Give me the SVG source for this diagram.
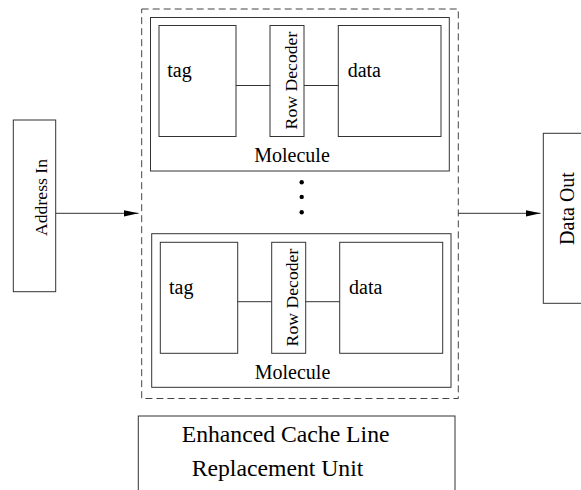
<svg xmlns="http://www.w3.org/2000/svg" width="581" height="490" viewBox="0 0 581 490">
<style>
.b{fill:#fff;stroke:#333;stroke-width:1}
.n{fill:none;stroke:#333;stroke-width:1}
.d{fill:none;stroke:#444;stroke-width:1;stroke-dasharray:7 4}
text{font-family:"Liberation Serif","Times New Roman",serif;fill:#000}
.t20{font-size:20px}
.t18{font-size:17.7px}
.t24{font-size:23.7px}
</style>
<defs>
<marker id="ah" markerUnits="userSpaceOnUse" markerWidth="16" markerHeight="8" refX="15" refY="4" orient="auto">
<path d="M0,0.8 L15,4 L0,7.2 Z" fill="#000"/>
</marker>
</defs>
<rect width="581" height="490" fill="#fff"/>
<g id="cache">
<rect class="d" x="141.7" y="9" width="316.6" height="389.5"/>
</g>
<g id="molecule1">
<rect class="b" x="150.5" y="17.5" width="298.8" height="153.5"/>
<text class="t20" x="292" y="162" text-anchor="middle">Molecule</text>
</g>
<g id="tag1">
<rect class="b" x="159" y="25.5" width="77" height="111"/>
<text class="t20" x="167.3" y="77">tag</text>
</g>
<g id="rowdec1">
<rect class="b" x="270" y="25.5" width="34" height="111"/>
<text class="t18" transform="translate(296.5,80.5) rotate(-90)" text-anchor="middle">Row Decoder</text>
</g>
<g id="data1">
<rect class="b" x="338.3" y="25.5" width="102.7" height="111"/>
<text class="t20" x="347.7" y="77">data</text>
</g>
<g id="molecule2">
<rect class="b" x="151.7" y="233.7" width="299.3" height="153.6"/>
<text class="t20" x="292.5" y="379.3" text-anchor="middle">Molecule</text>
</g>
<g id="tag2">
<rect class="b" x="160.3" y="242.3" width="77.4" height="111"/>
<text class="t20" x="169" y="293.5">tag</text>
</g>
<g id="rowdec2">
<rect class="b" x="271.7" y="242.3" width="34" height="111"/>
<text class="t18" transform="translate(297.7,297.5) rotate(-90)" text-anchor="middle">Row Decoder</text>
</g>
<g id="data2">
<rect class="b" x="339.7" y="242.3" width="103" height="111"/>
<text class="t20" x="349" y="293.5">data</text>
</g>
<g id="dots">
<circle cx="301.7" cy="182.3" r="2.2" fill="#000"/>
<circle cx="301.7" cy="196.9" r="2.2" fill="#000"/>
<circle cx="301.7" cy="212.3" r="2.2" fill="#000"/>
</g>
<g id="addressIn">
<rect class="b" x="13.3" y="120" width="42.4" height="171.7"/>
<text class="t18" transform="translate(46.7,197.5) rotate(-90)" text-anchor="middle">Address In</text>
</g>
<g id="dataOut">
<rect class="b" x="543.3" y="133.3" width="50" height="170"/>
<text class="t20" transform="translate(574.3,208.5) rotate(-90)" text-anchor="middle">Data Out</text>
</g>
<g id="replacement">
<rect class="b" x="138.3" y="416" width="316.7" height="80"/>
<text class="t24" x="181.7" y="441.7">Enhanced Cache Line</text>
<text class="t24" x="191.7" y="476">Replacement Unit</text>
</g>
<g id="connectors">
<line class="n" x1="236" y1="85.5" x2="270" y2="85.5"/>
<line class="n" x1="304" y1="85.5" x2="338.3" y2="85.5"/>
<line class="n" x1="237.7" y1="301.7" x2="271.7" y2="301.7"/>
<line class="n" x1="305.7" y1="301.7" x2="339.7" y2="301.7"/>
<line class="n" x1="55.7" y1="213.3" x2="138.5" y2="213.3" marker-end="url(#ah)"/>
<line class="n" x1="458.3" y1="213.3" x2="540.5" y2="213.3" marker-end="url(#ah)"/>
</g>
</svg>
